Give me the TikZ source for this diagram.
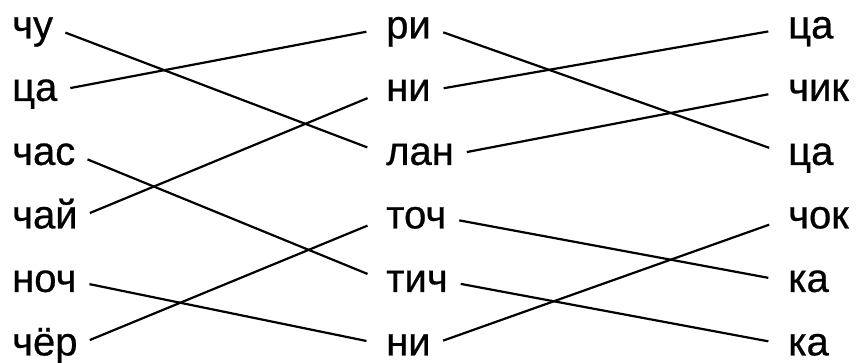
\documentclass[tikz,border=0pt]{standalone}
\usepackage{fontspec}
\setmainfont{Liberation Sans}
\begin{document}
\begin{tikzpicture}[x=1pt, y=-1pt, font=\fontsize{40}{46}\selectfont\addfontfeature{FakeBold=0.6},
	word/.style={anchor=base west, inner sep=0pt},
	link/.style={line width=2.2pt, shorten <=13pt, shorten >=20pt, transform canvas={yshift=10.4pt}}]
	\useasboundingbox (0,0) rectangle (856,363);
	\node[word] (l1) at (12,38.4) {чу};
	\node[word] (l2) at (12,100.9) {ца};
	\node[word] (l3) at (12,164.9) {час};
	\node[word] (l4) at (12,228.4) {чай};
	\node[word] (l5) at (12,291.9) {ноч};
	\node[word] (l6) at (12,355.4) {чёр};
	\node[word] (m1) at (386,38.4) {ри};
	\node[word] (m2) at (386,100.9) {ни};
	\node[word] (m3) at (386,164.9) {лан};
	\node[word] (m4) at (386,228.4) {точ};
	\node[word] (m5) at (386,291.9) {тич};
	\node[word] (m6) at (386,355.4) {ни};
	\node[word] (r1) at (788,38.4) {ца};
	\node[word] (r2) at (788,100.9) {чик};
	\node[word] (r3) at (788,164.9) {ца};
	\node[word] (r4) at (788,228.4) {чок};
	\node[word] (r5) at (788,291.9) {ка};
	\node[word] (r6) at (788,355.4) {ка};
	\draw[link] (l1.base east) -- (m3.base west);
	\draw[link] (l2.base east) -- (m1.base west);
	\draw[link] (l3.base east) -- (m5.base west);
	\draw[link] (l4.base east) -- (m2.base west);
	\draw[link] (l5.base east) -- (m6.base west);
	\draw[link] (l6.base east) -- (m4.base west);
	\draw[link] (m1.base east) -- (r3.base west);
	\draw[link] (m2.base east) -- (r1.base west);
	\draw[link] (m3.base east) -- (r2.base west);
	\draw[link] (m4.base east) -- (r5.base west);
	\draw[link] (m5.base east) -- (r6.base west);
	\draw[link] (m6.base east) -- (r4.base west);
\end{tikzpicture}
\end{document}
